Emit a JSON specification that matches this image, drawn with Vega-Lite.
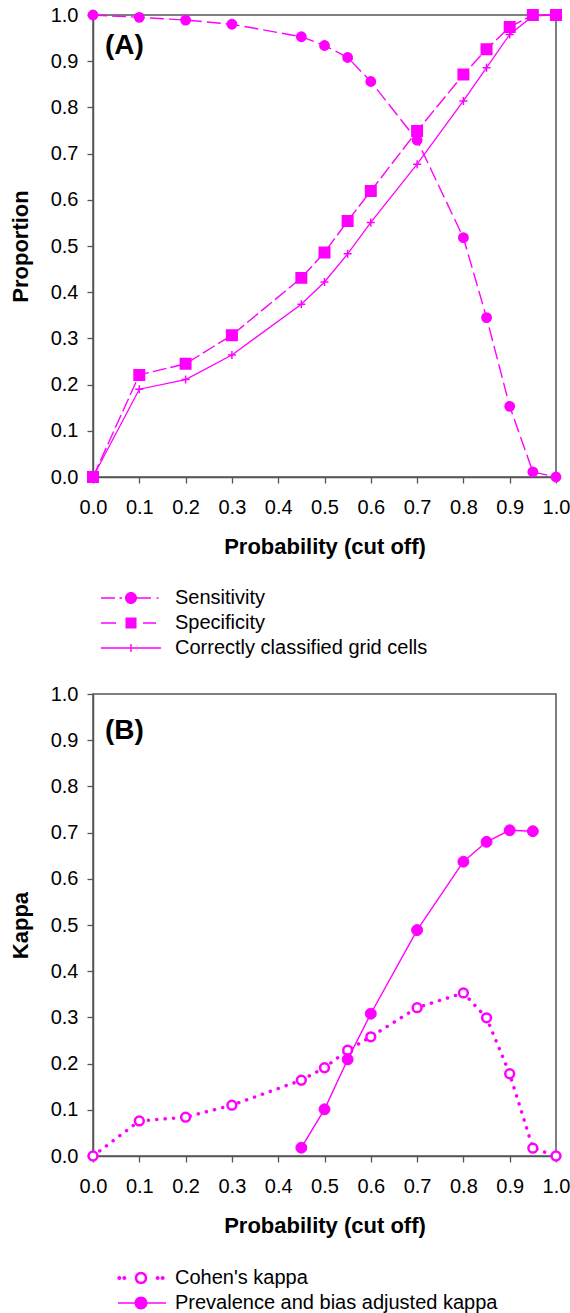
{
  "$schema": "https://vega.github.io/schema/vega-lite/v6.json",
  "padding": {"left": 8, "top": 4, "right": 0, "bottom": 2},
  "background": "white",
  "spacing": 217,
  "bounds": "flush",
  "resolve": {"scale": {"shape": "independent"}, "legend": {"shape": "independent"}},
  "config": {
    "font": "Liberation Sans",
    "view": {"stroke": "#555555", "strokeWidth": 1.5},
    "axis": {
      "labelFont": "Liberation Sans",
      "labelFontSize": 20,
      "labelColor": "#000000",
      "titleFont": "Liberation Sans",
      "titleFontSize": 22,
      "titleFontWeight": "bold",
      "titleColor": "#000000",
      "domainColor": "#555555",
      "domainWidth": 1.5,
      "tickColor": "#555555",
      "tickWidth": 1.3,
      "tickSize": 6,
      "grid": false,
      "labelFlush": false,
      "labelOverlap": false
    },
    "legend": {
      "labelFont": "Liberation Sans",
      "labelFontSize": 20,
      "labelColor": "#000000",
      "labelLimit": 600
    }
  },
  "vconcat": [
    {
      "width": 463,
      "height": 462,
      "data": {
        "values": [
          {"p": 0.0, "v": 1.0, "s": "Sensitivity"},
          {"p": 0.1, "v": 0.995, "s": "Sensitivity"},
          {"p": 0.2, "v": 0.989, "s": "Sensitivity"},
          {"p": 0.3, "v": 0.98, "s": "Sensitivity"},
          {"p": 0.45, "v": 0.953, "s": "Sensitivity"},
          {"p": 0.5, "v": 0.934, "s": "Sensitivity"},
          {"p": 0.55, "v": 0.908, "s": "Sensitivity"},
          {"p": 0.6, "v": 0.856, "s": "Sensitivity"},
          {"p": 0.7, "v": 0.729, "s": "Sensitivity"},
          {"p": 0.8, "v": 0.518, "s": "Sensitivity"},
          {"p": 0.85, "v": 0.345, "s": "Sensitivity"},
          {"p": 0.9, "v": 0.153, "s": "Sensitivity"},
          {"p": 0.95, "v": 0.011, "s": "Sensitivity"},
          {"p": 1.0, "v": 0.0, "s": "Sensitivity"},
          {"p": 0.0, "v": 0.0, "s": "Specificity"},
          {"p": 0.1, "v": 0.221, "s": "Specificity"},
          {"p": 0.2, "v": 0.245, "s": "Specificity"},
          {"p": 0.3, "v": 0.307, "s": "Specificity"},
          {"p": 0.45, "v": 0.431, "s": "Specificity"},
          {"p": 0.5, "v": 0.486, "s": "Specificity"},
          {"p": 0.55, "v": 0.554, "s": "Specificity"},
          {"p": 0.6, "v": 0.619, "s": "Specificity"},
          {"p": 0.7, "v": 0.749, "s": "Specificity"},
          {"p": 0.8, "v": 0.871, "s": "Specificity"},
          {"p": 0.85, "v": 0.926, "s": "Specificity"},
          {"p": 0.9, "v": 0.974, "s": "Specificity"},
          {"p": 0.95, "v": 1.0, "s": "Specificity"},
          {"p": 1.0, "v": 1.0, "s": "Specificity"},
          {"p": 0.0, "v": 0.0, "s": "Correctly classified grid cells"},
          {"p": 0.1, "v": 0.19, "s": "Correctly classified grid cells"},
          {"p": 0.2, "v": 0.211, "s": "Correctly classified grid cells"},
          {"p": 0.3, "v": 0.264, "s": "Correctly classified grid cells"},
          {"p": 0.45, "v": 0.374, "s": "Correctly classified grid cells"},
          {"p": 0.5, "v": 0.422, "s": "Correctly classified grid cells"},
          {"p": 0.55, "v": 0.483, "s": "Correctly classified grid cells"},
          {"p": 0.6, "v": 0.551, "s": "Correctly classified grid cells"},
          {"p": 0.7, "v": 0.677, "s": "Correctly classified grid cells"},
          {"p": 0.8, "v": 0.814, "s": "Correctly classified grid cells"},
          {"p": 0.85, "v": 0.886, "s": "Correctly classified grid cells"},
          {"p": 0.9, "v": 0.958, "s": "Correctly classified grid cells"},
          {"p": 0.95, "v": 0.998, "s": "Correctly classified grid cells"},
          {"p": 1.0, "v": 1.0, "s": "Correctly classified grid cells"}
        ]
      },
      "layer": [
        {
          "transform": [{"filter": "datum.s === 'Sensitivity'"}],
          "mark": {"type": "line", "color": "#ff00ff", "strokeWidth": 1.4, "strokeDash": [14, 5]},
          "encoding": {
            "x": {
              "field": "p", "type": "quantitative",
              "scale": {"domain": [0, 1], "nice": false, "zero": false},
              "axis": {"values": [0, 0.1, 0.2, 0.3, 0.4, 0.5, 0.6, 0.7, 0.8, 0.9, 1.0], "format": ".1f", "title": "Probability (cut off)", "labelPadding": 14, "titlePadding": 19}
            },
            "y": {
              "field": "v", "type": "quantitative",
              "scale": {"domain": [0, 1], "nice": false},
              "axis": {"values": [0, 0.1, 0.2, 0.3, 0.4, 0.5, 0.6, 0.7, 0.8, 0.9, 1.0], "format": ".1f", "title": "Proportion", "labelPadding": 9, "titlePadding": 18}
            }
          }
        },
        {
          "transform": [{"filter": "datum.s === 'Specificity'"}],
          "mark": {"type": "line", "color": "#ff00ff", "strokeWidth": 1.4, "strokeDash": [14, 4]},
          "encoding": {
            "x": {"field": "p", "type": "quantitative"},
            "y": {"field": "v", "type": "quantitative"}
          }
        },
        {
          "transform": [{"filter": "datum.s === 'Correctly classified grid cells'"}],
          "mark": {"type": "line", "color": "#ff00ff", "strokeWidth": 1.3},
          "encoding": {
            "x": {"field": "p", "type": "quantitative"},
            "y": {"field": "v", "type": "quantitative"}
          }
        },
        {
          "transform": [{"filter": "datum.s === 'Sensitivity'"}],
          "mark": {"type": "point", "shape": "circle", "filled": true, "fill": "#ff00ff", "stroke": "#ff00ff", "strokeWidth": 1.5, "opacity": 1, "size": 87},
          "encoding": {
            "x": {"field": "p", "type": "quantitative"},
            "y": {"field": "v", "type": "quantitative"}
          }
        },
        {
          "transform": [{"filter": "datum.s === 'Specificity'"}],
          "mark": {"type": "point", "shape": "square", "filled": true, "fill": "#ff00ff", "stroke": "#ff00ff", "strokeWidth": 1.5, "opacity": 1, "size": 110},
          "encoding": {
            "x": {"field": "p", "type": "quantitative"},
            "y": {"field": "v", "type": "quantitative"}
          }
        },
        {
          "transform": [{"filter": "datum.s === 'Correctly classified grid cells'"}],
          "mark": {"type": "point", "shape": "M-1,0L1,0M0,-1L0,1", "filled": false, "stroke": "#ff00ff", "strokeWidth": 1.5, "opacity": 1, "size": 64},
          "encoding": {
            "x": {"field": "p", "type": "quantitative"},
            "y": {"field": "v", "type": "quantitative"}
          }
        },
        {
          "transform": [{"filter": "datum.s === 'legend only'"}],
          "mark": {"type": "point", "filled": true, "color": "#ff00ff", "opacity": 1},
          "encoding": {
            "x": {"field": "p", "type": "quantitative"},
            "y": {"field": "v", "type": "quantitative"},
            "shape": {
              "field": "s", "type": "nominal",
              "scale": {
                "domain": ["Sensitivity", "Specificity", "Correctly classified grid cells"],
                "range": [
                  "M-6,-0.14L-3.2,-0.14L-3.2,0.14L-6,0.14ZM-2.3,-0.14L-1.8,-0.14L-1.8,0.14L-2.3,0.14ZM1.2,0A1.2,1.2,0,1,1,-1.2,0A1.2,1.2,0,1,1,1.2,0ZM1,-0.14L4,-0.14L4,0.14L1,0.14ZM5.1,-0.14L5.5,-0.14L5.5,0.14L5.1,0.14Z",
                  "M-6,-0.14L-3,-0.14L-3,0.14L-6,0.14ZM-1.1,-1.1L1.1,-1.1L1.1,1.1L-1.1,1.1ZM2.4,-0.14L5,-0.14L5,0.14L2.4,0.14Z",
                  "M-6,-0.14L6,-0.14L6,0.14L-6,0.14ZM-0.14,-0.8L0.14,-0.8L0.14,0.8L-0.14,0.8Z"
                ]
              },
              "legend": {
                "title": null,
                "orient": "none",
                "direction": "vertical",
                "legendX": 28,
                "legendY": 573,
                "symbolSize": 100,
                "labelOffset": 34,
                "rowPadding": 5,
                "encode": {
                  "symbols": {
                    "size": {"value": 100},
                    "fill": {"value": "#ff00ff"},
                    "strokeWidth": {"value": 0},
                    "opacity": {"value": 1}
                  }
                }
              }
            }
          }
        },
        {
          "data": {"values": [{"label": "(A)"}]},
          "mark": {"type": "text", "align": "left", "baseline": "alphabetic", "fontSize": 28, "fontWeight": "bold", "color": "#000000"},
          "encoding": {
            "x": {"datum": 0.026, "type": "quantitative"},
            "y": {"datum": 0.916, "type": "quantitative"},
            "text": {"value": "(A)"}
          }
        }
      ]
    },
    {
      "width": 463,
      "height": 462,
      "data": {
        "values": [
          {"p": 0.0, "v": 0.0, "s": "Cohen's kappa"},
          {"p": 0.1, "v": 0.076, "s": "Cohen's kappa"},
          {"p": 0.2, "v": 0.084, "s": "Cohen's kappa"},
          {"p": 0.3, "v": 0.11, "s": "Cohen's kappa"},
          {"p": 0.45, "v": 0.164, "s": "Cohen's kappa"},
          {"p": 0.5, "v": 0.191, "s": "Cohen's kappa"},
          {"p": 0.55, "v": 0.229, "s": "Cohen's kappa"},
          {"p": 0.6, "v": 0.258, "s": "Cohen's kappa"},
          {"p": 0.7, "v": 0.321, "s": "Cohen's kappa"},
          {"p": 0.8, "v": 0.353, "s": "Cohen's kappa"},
          {"p": 0.85, "v": 0.299, "s": "Cohen's kappa"},
          {"p": 0.9, "v": 0.178, "s": "Cohen's kappa"},
          {"p": 0.95, "v": 0.017, "s": "Cohen's kappa"},
          {"p": 1.0, "v": 0.0, "s": "Cohen's kappa"},
          {"p": 0.45, "v": 0.018, "s": "Prevalence and bias adjusted kappa"},
          {"p": 0.5, "v": 0.101, "s": "Prevalence and bias adjusted kappa"},
          {"p": 0.55, "v": 0.209, "s": "Prevalence and bias adjusted kappa"},
          {"p": 0.6, "v": 0.308, "s": "Prevalence and bias adjusted kappa"},
          {"p": 0.7, "v": 0.489, "s": "Prevalence and bias adjusted kappa"},
          {"p": 0.8, "v": 0.637, "s": "Prevalence and bias adjusted kappa"},
          {"p": 0.85, "v": 0.68, "s": "Prevalence and bias adjusted kappa"},
          {"p": 0.9, "v": 0.705, "s": "Prevalence and bias adjusted kappa"},
          {"p": 0.95, "v": 0.703, "s": "Prevalence and bias adjusted kappa"}
        ]
      },
      "layer": [
        {
          "transform": [{"filter": "datum.s === \"Cohen's kappa\""}],
          "mark": {"type": "line", "color": "#ff00ff", "strokeWidth": 3.5, "strokeCap": "round", "strokeDash": [0.1, 8.3]},
          "encoding": {
            "x": {
              "field": "p", "type": "quantitative",
              "scale": {"domain": [0, 1], "nice": false, "zero": false},
              "axis": {"values": [0, 0.1, 0.2, 0.3, 0.4, 0.5, 0.6, 0.7, 0.8, 0.9, 1.0], "format": ".1f", "title": "Probability (cut off)", "labelPadding": 14, "titlePadding": 19}
            },
            "y": {
              "field": "v", "type": "quantitative",
              "scale": {"domain": [0, 1], "nice": false},
              "axis": {"values": [0, 0.1, 0.2, 0.3, 0.4, 0.5, 0.6, 0.7, 0.8, 0.9, 1.0], "format": ".1f", "title": "Kappa", "labelPadding": 9, "titlePadding": 18}
            }
          }
        },
        {
          "transform": [{"filter": "datum.s === 'Prevalence and bias adjusted kappa'"}],
          "mark": {"type": "line", "color": "#ff00ff", "strokeWidth": 1.4},
          "encoding": {
            "x": {"field": "p", "type": "quantitative"},
            "y": {"field": "v", "type": "quantitative"}
          }
        },
        {
          "transform": [{"filter": "datum.s === \"Cohen's kappa\""}],
          "mark": {"type": "point", "shape": "circle", "filled": true, "fill": "#ffffff", "stroke": "#ff00ff", "strokeWidth": 2.5, "opacity": 1, "size": 78},
          "encoding": {
            "x": {"field": "p", "type": "quantitative"},
            "y": {"field": "v", "type": "quantitative"}
          }
        },
        {
          "transform": [{"filter": "datum.s === 'Prevalence and bias adjusted kappa'"}],
          "mark": {"type": "point", "shape": "circle", "filled": true, "fill": "#ff00ff", "stroke": "#ff00ff", "strokeWidth": 1, "opacity": 1, "size": 120},
          "encoding": {
            "x": {"field": "p", "type": "quantitative"},
            "y": {"field": "v", "type": "quantitative"}
          }
        },
        {
          "transform": [{"filter": "datum.s === 'legend only'"}],
          "mark": {"type": "point", "filled": true, "color": "#ff00ff", "opacity": 1},
          "encoding": {
            "x": {"field": "p", "type": "quantitative"},
            "y": {"field": "v", "type": "quantitative"},
            "shape": {
              "field": "s", "type": "nominal",
              "scale": {
                "domain": ["Cohen's kappa", "Prevalence and bias adjusted kappa"],
                "range": [
                  "M-3.93,0A0.4,0.4,0,1,1,-4.73,0A0.4,0.4,0,1,1,-3.93,0ZM-2.93,0A0.4,0.4,0,1,1,-3.73,0A0.4,0.4,0,1,1,-2.93,0ZM3.73,0A0.4,0.4,0,1,1,2.93,0A0.4,0.4,0,1,1,3.73,0ZM4.73,0A0.4,0.4,0,1,1,3.93,0A0.4,0.4,0,1,1,4.73,0ZM1.25,0A1.25,1.25,0,1,1,-1.25,0A1.25,1.25,0,1,1,1.25,0ZM0.75,0A0.75,0.75,0,1,0,-0.75,0A0.75,0.75,0,1,0,0.75,0Z",
                  "M-4.6,-0.14L5,-0.14L5,0.14L-4.6,0.14ZM1.3,0A1.3,1.3,0,1,1,-1.3,0A1.3,1.3,0,1,1,1.3,0Z"
                ]
              },
              "legend": {
                "title": null,
                "orient": "none",
                "direction": "vertical",
                "legendX": 38,
                "legendY": 574,
                "symbolSize": 100,
                "labelOffset": 24,
                "rowPadding": 5,
                "encode": {
                  "symbols": {
                    "size": {"value": 100},
                    "fill": {"value": "#ff00ff"},
                    "strokeWidth": {"value": 0},
                    "opacity": {"value": 1}
                  }
                }
              }
            }
          }
        },
        {
          "data": {"values": [{"label": "(B)"}]},
          "mark": {"type": "text", "align": "left", "baseline": "alphabetic", "fontSize": 28, "fontWeight": "bold", "color": "#000000"},
          "encoding": {
            "x": {"datum": 0.026, "type": "quantitative"},
            "y": {"datum": 0.903, "type": "quantitative"},
            "text": {"value": "(B)"}
          }
        }
      ]
    }
  ]
}
